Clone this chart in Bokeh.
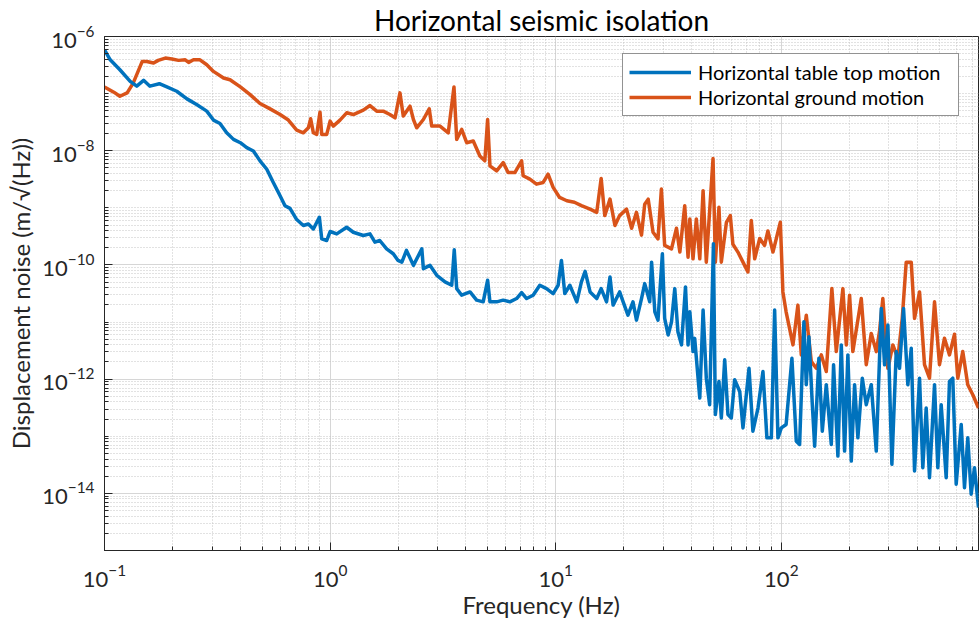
from bokeh.plotting import figure
from bokeh.models import Range1d, FixedTicker, LogTickFormatter, Legend, LegendItem, ColumnDataSource
from bokeh.embed import file_html
from bokeh.resources import INLINE

# ---------------- data ----------------
ground_freq = [
    0.100, 0.110, 0.117, 0.126, 0.134, 0.147, 0.154, 0.165, 0.173, 0.186,
    0.199, 0.213, 0.228, 0.236, 0.248, 0.265, 0.284, 0.304, 0.337, 0.360,
    0.400, 0.442, 0.489, 0.542, 0.600, 0.653, 0.711, 0.761, 0.801, 0.820,
    0.843, 0.872, 0.902, 0.918, 0.966, 1.00, 1.033, 1.106, 1.184, 1.267,
    1.403, 1.502, 1.609, 1.72, 1.84, 1.94, 2.04, 2.11, 2.26, 2.34,
    2.42, 2.59, 2.75, 2.82, 3.07, 3.34, 3.54, 3.64, 3.83, 4.03,
    4.31, 4.61, 4.85, 4.99, 5.11, 5.47, 5.85, 6.15, 6.59, 7.06,
    7.17, 7.68, 8.22, 8.80, 9.25, 9.74, 10.4, 11.2, 12.1, 13.0,
    14.2, 15.2, 15.9, 16.5, 17.4, 18.3, 19.2, 20.6, 21.7, 22.8,
    24.0, 24.8, 25.7, 27.0, 28.4, 29.4, 30.4, 32.6, 34.3, 35.5,
    37.3, 38.6, 39.3, 40.6, 42.0, 43.5, 45.0, 46.5, 49.8, 51.0,
    52.9, 54.2, 57.1, 59.4, 61.0, 64.2, 67.6, 71.1, 73.6, 76.2,
    80.2, 84.3, 87.2, 91.8, 99.0, 101.6, 105.0, 112.6, 118.4, 122.6,
    129.0, 135.8, 142.9, 150.4, 158.2, 167.5, 175.2, 187.4, 194.1, 200.7,
    207.5, 226.1, 237.9, 250.4, 263.5, 272.4, 281.8, 296.6, 312.1, 328.4,
    343.5, 357.7, 376.5, 389.4, 409.8, 431.1, 453.6, 477.5, 502.3, 528.6,
    556.3, 585.5, 605.5, 637.1, 670.4, 705.7, 748.0,
]
ground_disp = [
    1.31e-7, 1.06e-7, 9.0e-8, 1.03e-7, 1.53e-7, 3.66e-7, 3.66e-7, 3.43e-7, 3.82e-7, 4.19e-7,
    4.03e-7, 3.82e-7, 3.91e-7, 3.52e-7, 3.91e-7, 3.91e-7, 3.2e-7, 2.45e-7, 1.88e-7, 1.75e-7,
    1.31e-7, 9.6e-8, 6.7e-8, 5.4e-8, 4.3e-8, 3.44e-8, 2.30e-8, 2.06e-8, 2.52e-8, 3.62e-8,
    2.06e-8, 1.93e-8, 4.74e-8, 1.93e-8, 1.93e-8, 3.3e-8, 2.70e-8, 3.44e-8, 4.61e-8, 4.3e-8,
    5.14e-8, 6.18e-8, 4.93e-8, 4.93e-8, 4.3e-8, 3.77e-8, 1.03e-7, 4.04e-8, 6.03e-8, 3.52e-8,
    2.52e-8, 3.52e-8, 5.41e-8, 2.70e-8, 2.70e-8, 2.06e-8, 1.31e-7, 1.58e-8, 2.36e-8, 1.38e-8,
    1.48e-8, 8.1e-9, 6.64e-9, 3.52e-8, 5.43e-9, 4.45e-9, 6.21e-9, 4.15e-9, 4.15e-9, 6.64e-9,
    3.64e-9, 3.18e-9, 2.60e-9, 2.78e-9, 3.88e-9, 2.28e-9, 1.52e-9, 1.33e-9, 1.25e-9, 1.09e-9,
    9.5e-10, 8.35e-10, 3.27e-9, 7.31e-10, 1.42e-9, 4.9e-10, 7.31e-10, 9.5e-10, 4.40e-10, 8.35e-10,
    3.33e-10, 1.16e-9, 1.42e-9, 3.74e-10, 2.86e-10, 2.13e-9, 2.20e-10, 1.91e-10, 4.40e-10, 1.68e-10,
    1.09e-9, 1.37e-10, 6.38e-10, 1.28e-10, 6.38e-10, 1.28e-10, 2.0e-9, 1.12e-10, 7.29e-9, 1.12e-10,
    1.02e-9, 1.12e-10, 5.59e-10, 7.31e-10, 2.30e-10, 1.68e-10, 1.12e-10, 7.52e-11, 5.98e-10, 1.28e-10,
    2.91e-10, 2.20e-10, 3.94e-10, 1.68e-10, 5.59e-10, 3.37e-11, 1.51e-11, 3.98e-12, 1.98e-11, 2.66e-12,
    1.32e-11, 2.03e-12, 1.55e-12, 2.66e-12, 1.36e-12, 3.85e-11, 3.04e-12, 3.85e-11, 3.98e-12, 2.96e-11,
    3.04e-12, 2.58e-11, 1.79e-12, 6.33e-12, 3.04e-12, 6.86e-12, 2.58e-11, 1.55e-12, 3.98e-12, 2.32e-12,
    1.16e-11, 1.12e-10, 1.12e-10, 1.16e-11, 3.37e-11, 1.79e-12, 1.04e-12, 2.26e-11, 1.79e-12, 5.22e-12,
    2.66e-12, 6.13e-12, 1.04e-12, 3.04e-12, 7.96e-13, 5.33e-13, 3.12e-13,
]

table_freq = [
    0.100, 0.106, 0.117, 0.130, 0.139, 0.149, 0.159, 0.175, 0.189, 0.209,
    0.232, 0.256, 0.284, 0.304, 0.325, 0.348, 0.373, 0.400, 0.427, 0.457,
    0.489, 0.524, 0.560, 0.600, 0.631, 0.664, 0.711, 0.761, 0.801, 0.843,
    0.896, 0.918, 0.966, 1.00, 1.07, 1.184, 1.267, 1.403, 1.502, 1.58,
    1.66, 1.78, 1.905, 2.00, 2.08, 2.18, 2.34, 2.55, 2.59, 2.77,
    2.97, 3.23, 3.46, 3.55, 3.64, 3.83, 4.17, 4.46, 4.77, 4.99,
    5.11, 5.47, 5.85, 6.26, 6.71, 7.06, 7.43, 7.94, 8.50, 9.10,
    9.74, 10.25, 10.6, 10.97, 11.55, 12.4, 13.0, 13.5, 14.2, 15.2,
    15.9, 16.8, 17.4, 17.96, 19.2, 19.9, 20.9, 22.0, 22.8, 24.0,
    24.8, 26.1, 26.6, 27.5, 28.4, 29.7, 30.4, 31.5, 32.6, 33.7,
    34.8, 36.1, 37.6, 38.6, 39.3, 40.6, 41.3, 43.5, 45.0, 46.5,
    48.1, 50.0, 51.0, 52.9, 54.2, 56.1, 58.0, 60.0, 62.1, 65.4,
    67.6, 71.9, 74.8, 78.8, 82.9, 86.3, 90.3, 93.4, 96.6, 100.0,
    105.0, 111.4, 116.5, 120.5, 125.9, 129.0, 132.5, 137.2, 140.5, 146.7,
    151.9, 158.2, 166.5, 170.4, 178.1, 184.4, 190.7, 197.2, 204.2, 211.2,
    218.4, 228.5, 237.9, 250.4, 263.5, 277.3, 286.8, 296.6, 309.0, 323.1,
    334.1, 348.0, 363.7, 376.5, 389.4, 409.8, 423.7, 438.6, 453.6, 477.5,
    493.8, 511.1, 537.9, 556.3, 575.4, 595.7, 627.0, 648.4, 670.4, 694.2,
    717.8, 748.0,
]
table_disp = [
    5.84e-7, 3.91e-7, 2.62e-7, 1.64e-7, 1.35e-7, 1.71e-7, 1.35e-7, 1.49e-7, 1.31e-7, 1.10e-7,
    8.09e-8, 6.43e-8, 4.94e-8, 3.44e-8, 3.0e-8, 2.07e-8, 1.58e-8, 1.38e-8, 1.13e-8, 9.9e-9,
    6.64e-9, 4.74e-9, 2.78e-9, 1.63e-9, 1.09e-9, 9.8e-10, 6.23e-10, 4.9e-10, 5.22e-10, 4.27e-10,
    6.83e-10, 2.86e-10, 2.68e-10, 3.85e-10, 3.50e-10, 4.57e-10, 3.74e-10, 3.28e-10, 3.50e-10, 2.51e-10,
    2.68e-10, 1.91e-10, 1.57e-10, 1.20e-10, 1.12e-10, 1.80e-10, 9.84e-11, 1.91e-10, 8.6e-11, 9.84e-11,
    6.59e-11, 5.04e-11, 4.41e-11, 1.84e-10, 3.85e-11, 2.95e-11, 3.37e-11, 2.42e-11, 2.26e-11, 5.39e-11,
    2.26e-11, 2.26e-11, 2.42e-11, 2.26e-11, 2.58e-11, 3.28e-11, 2.58e-11, 2.95e-11, 4.41e-11, 3.85e-11,
    3.15e-11, 4.41e-11, 1.20e-10, 3.15e-11, 4.41e-11, 2.26e-11, 5.04e-11, 7.74e-11, 3.37e-11, 2.58e-11,
    3.85e-11, 2.26e-11, 6.15e-11, 1.98e-11, 3.37e-11, 2.26e-11, 1.32e-11, 2.26e-11, 1.08e-11, 2.58e-11,
    4.71e-11, 2.26e-11, 1.12e-10, 1.51e-11, 1.08e-11, 1.57e-10, 1.16e-11, 5.94e-12, 1.01e-11, 3.85e-11,
    6.78e-12, 3.98e-12, 4.12e-11, 3.98e-12, 1.51e-11, 3.04e-12, 5.18e-12, 4.67e-13, 1.62e-11, 1.04e-12,
    3.58e-13, 2.34e-10, 2.40e-13, 9.12e-13, 2.09e-13, 2.18e-12, 2.40e-13, 2.09e-13, 9.76e-13, 6.1e-13,
    1.40e-13, 1.55e-12, 1.23e-13, 3.12e-13, 1.36e-12, 9.38e-14, 9.38e-14, 1.62e-11, 9.38e-14, 1.40e-13,
    1.61e-13, 2.32e-12, 8.22e-14, 7.20e-14, 1.01e-11, 7.99e-13, 5.55e-12, 3.58e-13, 6.72e-14, 2.32e-12,
    1.23e-13, 7.99e-13, 7.20e-14, 1.78e-12, 4.50e-14, 3.98e-12, 5.50e-14, 2.66e-12, 3.68e-14, 7.99e-13,
    9.38e-14, 1.04e-12, 3.58e-13, 7.99e-13, 5.50e-14, 1.73e-11, 1.78e-12, 8.87e-12, 3.23e-14, 3.04e-12,
    1.55e-12, 1.73e-11, 7.99e-13, 3.47e-12, 2.47e-14, 1.04e-12, 2.82e-14, 3.12e-13, 1.88e-14, 7.99e-13,
    2.82e-14, 3.58e-13, 1.88e-14, 9.12e-13, 1.04e-12, 1.45e-14, 1.61e-13, 1.26e-14, 9.38e-14, 9.7e-15,
    2.82e-14, 5.66e-15,
]

x_major = [0.1, 1, 10, 100]
y_major = [1e-14, 1e-12, 1e-10, 1e-8, 1e-6]
x_minor = [k * 10.0 ** d for d in range(-1, 3) for k in range(2, 10) if k * 10.0 ** d < 750]
y_minor = [k * 10.0 ** d for d in range(-15, -6) for k in range(1, 10)
           if not (k == 1 and d in (-14, -12, -10, -8))]

FONT = "Lato"
TEXT = "#262626"
BLUE = "#0072BD"
ORANGE = "#D95319"

p = figure(width=979, height=624, x_axis_type="log", y_axis_type="log",
           x_range=Range1d(0.1, 748), y_range=Range1d(1e-15, 1e-6),
           output_backend="svg", toolbar_location=None,
           min_border_left=104, min_border_right=1, min_border_top=33, min_border_bottom=74,
           background_fill_color="white", border_fill_color="white")

src_g = ColumnDataSource(dict(f=ground_freq, v=ground_disp))
src_t = ColumnDataSource(dict(f=table_freq, v=table_disp))
rg = p.line("f", "v", source=src_g, line_color=ORANGE, line_width=3.5, line_join="round")
rb = p.line("f", "v", source=src_t, line_color=BLUE, line_width=3.5, line_join="round")

xt = FixedTicker(ticks=x_major, minor_ticks=x_minor)
yt = FixedTicker(ticks=y_major, minor_ticks=y_minor)
p.xaxis.ticker = xt
p.yaxis.ticker = yt
p.xaxis.formatter = LogTickFormatter()
p.yaxis.formatter = LogTickFormatter()
p.xgrid.ticker = xt
p.ygrid.ticker = yt

for g in (p.xgrid, p.ygrid):
    g.grid_line_color = "#d6d6d6"
    g.grid_line_width = 1
    g.minor_grid_line_color = "#c4c4c4"
    g.minor_grid_line_dash = "1 2"
    g.minor_grid_line_width = 1

for ax in (p.xaxis, p.yaxis):
    ax.axis_line_color = TEXT
    ax.axis_line_width = 1
    ax.major_tick_line_color = TEXT
    ax.minor_tick_line_color = TEXT
    ax.major_tick_in = 8
    ax.major_tick_out = 0
    ax.minor_tick_in = 4
    ax.minor_tick_out = 0
    ax.major_label_text_font = FONT
    ax.major_label_text_font_size = "22px"
    ax.major_label_text_color = TEXT
    ax.axis_label_text_font = FONT
    ax.axis_label_text_font_size = "24px"
    ax.axis_label_text_font_style = "normal"
    ax.axis_label_text_color = TEXT

p.xaxis.axis_label = "Frequency (Hz)"
p.yaxis.axis_label = "Displacement noise (m/\u221a(Hz))"
p.xaxis.major_label_standoff = 14
p.xaxis.axis_label_standoff = 0
p.yaxis.major_label_standoff = 10
p.yaxis.axis_label_standoff = 4

p.outline_line_color = TEXT
p.outline_line_width = 1

p.title.text = "Horizontal seismic isolation"
p.title.text_font = FONT
p.title.text_font_size = "28px"
p.title.text_font_style = "normal"
p.title.text_color = "black"
p.title.align = "center"
p.title.standoff = 0

legend = Legend(items=[LegendItem(label="Horizontal table top motion", renderers=[rb]),
                       LegendItem(label="Horizontal ground motion", renderers=[rg])],
                location=(518, 434), orientation="vertical",
                label_text_font=FONT, label_text_font_size="20px", label_text_color="black",
                glyph_width=62, glyph_height=22, label_height=22, label_width=254,
                label_standoff=7, spacing=1, padding=6, margin=0,
                border_line_color=TEXT, border_line_width=1,
                background_fill_color="white", background_fill_alpha=1)
p.add_layout(legend)

open("out.html", "w").write(file_html(p, INLINE))
